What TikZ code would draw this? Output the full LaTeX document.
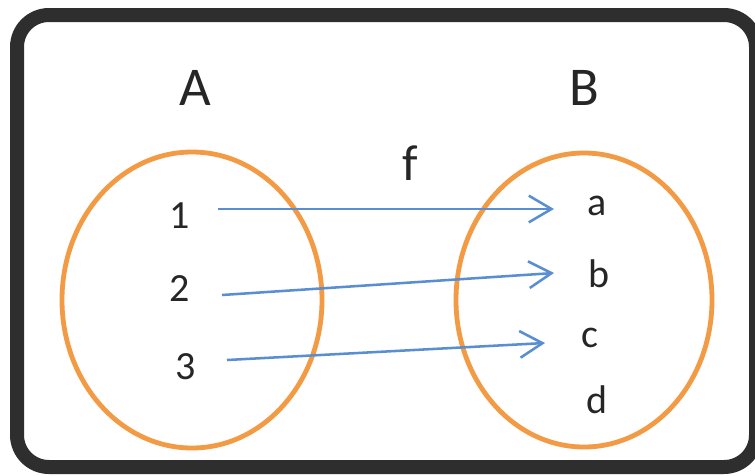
\documentclass[tikz,border=0pt]{standalone}
\usepackage{fontspec}
\setmainfont{Carlito}
\usetikzlibrary{arrows.meta}
\definecolor{frame}{HTML}{2E2E2E}
\definecolor{setorange}{HTML}{F39A45}
\definecolor{mapblue}{HTML}{5A8ED2}
\tikzset{
  setring/.style={draw=setorange, line width=3.6pt},
  elem/.style={font=\fontsize{30}{30}\selectfont, text=black!85, inner sep=0pt},
  setname/.style={font=\fontsize{41}{41}\selectfont, text=black!85, inner sep=0pt},
  maparrow/.style={draw=mapblue, line width=1.9pt, -{Straight Barb[length=17pt,width=20pt,line width=1.9pt]}}
}
\begin{document}
\begin{tikzpicture}[x=0.75pt,y=-0.75pt]
\useasboundingbox (0,0) rectangle (755,475);
\fill[white] (0,0) rectangle (755,475);
\draw[frame, line width=10.5pt, rounded corners=24pt] (17,15) rectangle (756,467);
\draw[setring] (192,300) ellipse [x radius=130, y radius=148];
\draw[setring] (584,300) ellipse [x radius=128, y radius=147];
\node[setname] (A) at (195,88) {A};
\node[setname] (B) at (584,88) {B};
\node[setname, font=\fontsize{38}{38}\selectfont] (f) at (410,163) {f};
\node[elem] (n1) at (180,216) {1};
\node[elem] (n2) at (180,289) {2};
\node[elem] (n3) at (186,367) {3};
\node[elem] (a) at (597,206) {a};
\node[elem] (b) at (599,274) {b};
\node[elem] (c) at (590,338) {c};
\node[elem] (d) at (597,400) {d};
\coordinate (s1) at (218,209);
\coordinate (e1) at (554,209);
\coordinate (s2) at (222,295);
\coordinate (e2) at (554,273);
\coordinate (s3) at (227,360);
\coordinate (e3) at (545,343);
\draw[maparrow] (s1) -- (e1);
\draw[maparrow] (s2) -- (e2);
\draw[maparrow] (s3) -- (e3);
\end{tikzpicture}
\end{document}
